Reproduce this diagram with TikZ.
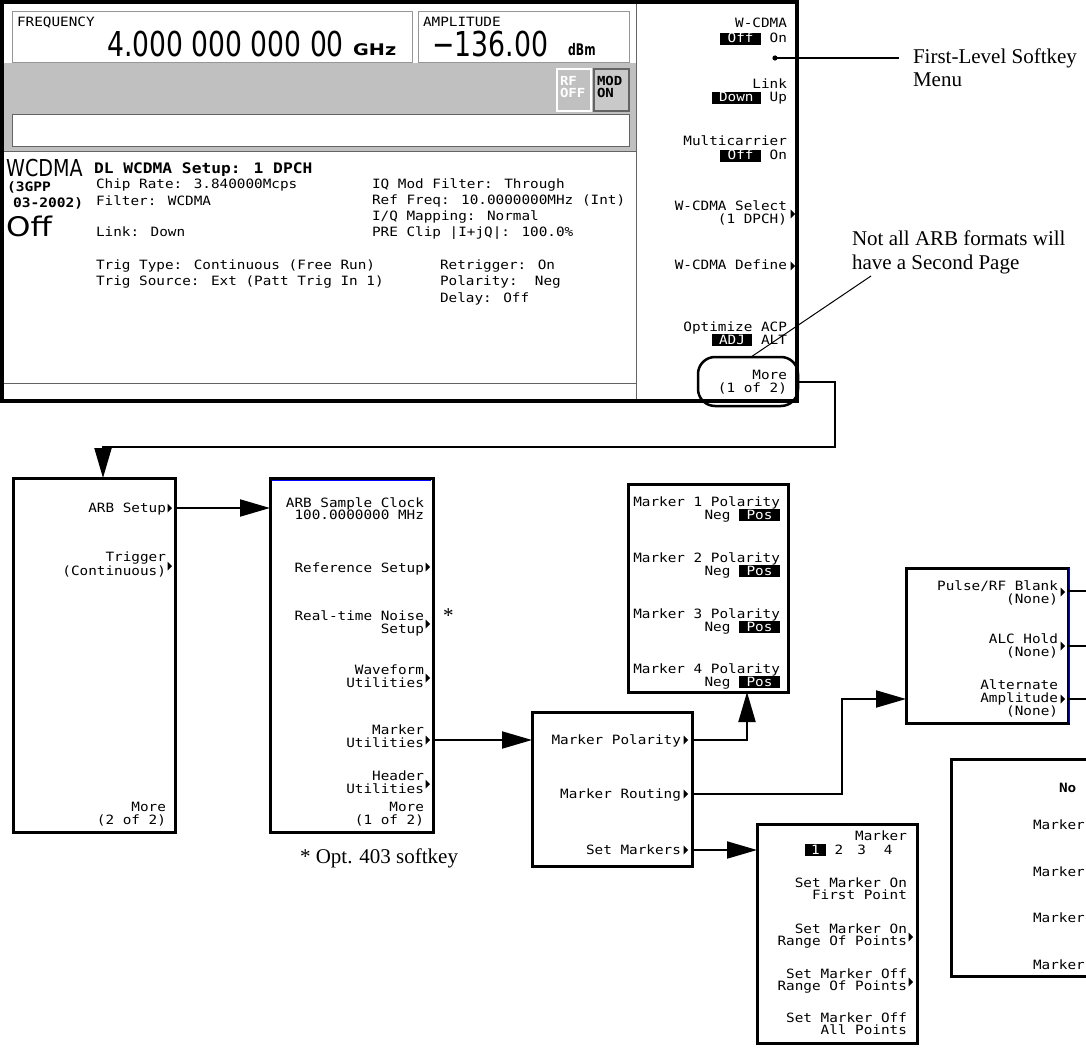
\documentclass[tikz,border=0pt]{standalone}
\usepackage{fontspec}
\usepackage{graphicx}
\usetikzlibrary{arrows.meta}
\setmainfont{Liberation Serif}
\newfontfamily\scrfam[FakeStretch=1.12]{DejaVu Sans Mono}
\newfontfamily\bigfam{DejaVu Sans}
\newcommand\scr{\scrfam\fontsize{12.8}{13}\selectfont}
\newcommand\hlt[1]{{\setlength{\fboxsep}{0pt}\colorbox{black}{\rule[-2.2pt]{0pt}{12.2pt}\hspace{7.5pt}\textcolor{white}{#1}\hspace{7.5pt}}}}
\newcommand\hlo[1]{{\setlength{\fboxsep}{0pt}\colorbox{black}{\rule[-2.2pt]{0pt}{12.2pt}\hspace{6pt}\textcolor{white}{#1}\hspace{6pt}}}}
\newcommand\trip[2]{\fill (#1-4.5,#2-4.5) -- (#1,#2) -- (#1-4.5,#2+4.5) -- cycle;}
\definecolor{scrgray}{RGB}{192,192,192}
\definecolor{lgray}{RGB}{150,150,150}
\definecolor{dgray}{RGB}{100,100,100}
\tikzset{
 st/.style={font=\scr, inner sep=0pt, outer sep=0pt, anchor=base east},
 sw/.style={font=\scr, inner sep=0pt, outer sep=0pt, anchor=base west},
 menubox/.style={draw, line width=3pt, inner sep=0pt, outer sep=0pt, fill=white, anchor=north west},
 conn/.style={line width=2pt, -{Triangle[length=30pt,width=17pt]}},
 wire/.style={line width=2pt},
 note/.style={font=\fontsize{21}{24}\selectfont, inner sep=0pt, outer sep=0pt, anchor=base west},
}
\begin{document}
\begin{tikzpicture}[x=1pt,y=-1pt]
\useasboundingbox (0,0) rectangle (1086,1048);
\clip (0,0) rectangle (1086,1048);
\fill[white] (0,0) rectangle (1086,1048);

% ---------- instrument screen ----------
\fill[scrgray] (3,63) rectangle (636,152);
\draw[lgray, line width=1pt] (12,12) rectangle (412,63);
\draw[lgray, line width=1pt] (418,12) rectangle (629,63);
\filldraw[fill=white, draw=dgray, line width=1pt] (12,115) rectangle (629,147);
\filldraw[fill=scrgray, draw=white, line width=1.5pt] (557,69) rectangle (591,111);
\filldraw[fill=scrgray!85, draw=dgray, line width=1.5pt] (594,69) rectangle (629,111);
\draw[dgray, line width=1pt] (3,152) -- (636,152);
\draw[dgray, line width=1pt] (3,383) -- (636,383);
\draw[dgray, line width=1pt] (636,3) -- (636,401);
\draw[line width=3.5pt] (2,2) rectangle (797,401);

\node[sw] (freqlbl) at (17,27) {FREQUENCY};
\node[inner sep=0pt, anchor=base west] (freqval) at (107,57) {\scalebox{0.775}[1]{\bigfam\fontsize{34.3}{36}\selectfont 4.000 000 000 00}};
\node[inner sep=0pt, anchor=base west] (ghz) at (353,56) {\scalebox{1.2}[1]{\bigfam\bfseries\fontsize{16}{16}\selectfont GHz}};
\node[sw] (amplbl) at (423,27) {AMPLITUDE};
\node[inner sep=0pt, anchor=base west] (ampval) at (432,57) {\scalebox{0.78}[1]{\bigfam\fontsize{34.3}{36}\selectfont −136.00}};
\node[inner sep=0pt, anchor=base west] (dbm) at (568,56) {\scalebox{0.68}[1]{\bigfam\bfseries\fontsize{16}{16}\selectfont dBm}};
\node[sw, font=\scrfam\bfseries\fontsize{12.5}{13}\selectfont, text=white] (rf) at (560,86) {RF};
\node[sw, font=\scrfam\bfseries\fontsize{12.5}{13}\selectfont, text=white] (rfoff) at (560,98) {OFF};
\node[sw, font=\scrfam\bfseries\fontsize{12.5}{13}\selectfont] (mod) at (597,86) {MOD};
\node[sw, font=\scrfam\bfseries\fontsize{12.5}{13}\selectfont] (modon) at (597,98) {ON};

\node[inner sep=0pt, anchor=base west] (wcdmabig) at (6,177) {\scalebox{0.82}[1]{\bigfam\fontsize{23.3}{24}\selectfont WCDMA}};
\node[sw, font=\scrfam\bfseries\fontsize{13}{13}\selectfont] (gpp1) at (7,192) {(3GPP};
\node[sw, font=\scrfam\bfseries\fontsize{13}{13}\selectfont] (gpp2) at (13,208) {03-2002)};
\node[inner sep=0pt, anchor=base west] (offbig) at (6,237) {\scalebox{1.15}[1]{\bigfam\fontsize{27}{28}\selectfont Off}};
\node[sw, font=\scrfam\bfseries\fontsize{14.5}{15}\selectfont] (dlhead) at (94,174) {DL WCDMA Setup: 1 DPCH};
\node[sw] (chip) at (96,189) {Chip Rate: 3.840000Mcps};
\node[sw] (filt) at (96,206) {Filter: WCDMA};
\node[sw] (link) at (96,237) {Link: Down};
\node[sw] (trty) at (96,270) {Trig Type: Continuous (Free Run)};
\node[sw] (trsr) at (96,286) {Trig Source: Ext (Patt Trig In 1)};
\node[sw] (iqmf) at (372,189) {IQ Mod Filter: Through};
\node[sw] (reff) at (372,205) {Ref Freq: 10.0000000MHz (Int)};
\node[sw] (iqmp) at (372,221) {I/Q Mapping: Normal};
\node[sw] (prec) at (372,237) {PRE Clip |I+jQ|: 100.0\%};
\node[sw] (retr) at (440,270) {Retrigger: On};
\node[sw] (pola) at (440,286) {Polarity:\ \ Neg};
\node[sw] (dela) at (440,302) {Delay: Off};

% first-level softkeys
\node[st] (wc1) at (787,28) {W-CDMA};
\node[st] (wc2) at (787,43) {\hlt{Off} On};
\node[st] (lk1) at (787,89) {Link};
\node[st] (lk2) at (787,102) {\hlt{Down} Up};
\node[st] (mc1) at (787,146) {Multicarrier};
\node[st] (mc2) at (787,160) {\hlt{Off} On};
\node[st] (ws1) at (787,211) {W-CDMA Select};
\node[st] (ws2) at (787,224) {(1 DPCH)};
\trip{795}{214}
\node[st] (wd) at (787,270) {W-CDMA Define};
\trip{795}{266}
\node[st] (oa1) at (787,331) {Optimize ACP};
\node[st] (oa2) at (787,344) {\hlt{ADJ} ALT};
\node[st] (mo1) at (787,379) {More};
\node[st] (mo2) at (787,392) {(1 of 2)};
\node[draw, line width=2.5pt, rounded corners=17pt, minimum width=100pt, minimum height=49pt, inner sep=0pt, outer sep=0pt] (moreov) at (748,381.5) {};

% annotations
\coordinate (fldot) at (775,58);
\coordinate (flend) at (899,58);
\fill (fldot) circle (2.6pt);
\draw[line width=1.5pt] (fldot) -- (flend);
\node[note] (fl1) at (913,64) {First-Level Softkey};
\node[note] (fl2) at (913,87) {Menu};
\node[note] (na1) at (852,246) {Not all ARB formats will};
\node[note] (na2) at (852,270) {have a Second Page};
\coordinate (nastart) at (871,276);
\coordinate (naend) at (751,357);
\draw[line width=1pt] (nastart) -- (naend);

% ---------- menu boxes ----------
\node[menubox, minimum width=162pt, minimum height=354pt] (L) at (13,478) {};
\node[menubox, minimum width=163pt, minimum height=354pt] (A) at (270,478) {};
\node[menubox, minimum width=160pt, minimum height=208pt] (MP4) at (628,484) {};
\node[menubox, minimum width=160pt, minimum height=154pt] (MR) at (532,712) {};
\node[menubox, minimum width=162pt, minimum height=155pt] (PB) at (906,568) {};
\node[menubox, minimum width=160pt, minimum height=219pt] (SM) at (757,824) {};
\node[menubox, minimum width=200pt, minimum height=217pt] (RB) at (951,759) {};
\draw[blue, line width=0.8pt] (272,480.8) -- (431,480.8);
\draw[blue, line width=0.8pt] (1069.8,568) -- (1069.8,723);

% box L
\node[st] (ls) at (166,512) {ARB Setup};
\trip{172}{508}
\node[st] (lt1) at (166,561) {Trigger};
\node[st] (lt2) at (166,575) {(Continuous)};
\trip{172}{566}
\node[st] (lm1) at (166,811) {More};
\node[st] (lm2) at (166,824) {(2 of 2)};

% box A
\node[st] (a1a) at (424,507) {ARB Sample Clock};
\node[st] (a1b) at (424,519) {100.0000000 MHz};
\node[st] (a2) at (424,572) {Reference Setup};
\trip{430}{567}
\node[st] (a3a) at (424,620) {Real-time Noise};
\node[st] (a3b) at (424,633) {Setup};
\trip{430}{624}
\node[st] (a4a) at (424,674) {Waveform};
\node[st] (a4b) at (424,687) {Utilities};
\trip{430}{678}
\node[st] (a5a) at (424,734) {Marker};
\node[st] (a5b) at (424,747) {Utilities};
\trip{430}{740}
\node[st] (a6a) at (424,780) {Header};
\node[st] (a6b) at (424,793) {Utilities};
\trip{430}{784}
\node[st] (a7a) at (424,811) {More};
\node[st] (a7b) at (424,824) {(1 of 2)};
\node[note] (star) at (443,622) {*};
\node[note] (optnote) at (300,863) {* Opt. 403 softkey};

% box MP4
\node[st] (p1a) at (780,506) {Marker 1 Polarity};
\node[st] (p1b) at (780,519) {Neg \hlt{Pos}};
\node[st] (p2a) at (780,562) {Marker 2 Polarity};
\node[st] (p2b) at (780,575) {Neg \hlt{Pos}};
\node[st] (p3a) at (780,618) {Marker 3 Polarity};
\node[st] (p3b) at (780,631) {Neg \hlt{Pos}};
\node[st] (p4a) at (780,673) {Marker 4 Polarity};
\node[st] (p4b) at (780,686) {Neg \hlt{Pos}};

% box MR
\node[st] (r1) at (681,744) {Marker Polarity};
\trip{688}{740}
\node[st] (r2) at (681,798) {Marker Routing};
\trip{688}{794}
\node[st] (r3) at (681,854) {Set Markers};
\trip{688}{850}

% box PB
\node[st] (b1a) at (1058,590) {Pulse/RF Blank};
\node[st] (b1b) at (1058,603) {(None)};
\trip{1065}{592}
\node[st] (b2a) at (1058,643) {ALC Hold};
\node[st] (b2b) at (1058,656) {(None)};
\trip{1065}{646}
\node[st] (b3a) at (1058,689) {Alternate};
\node[st] (b3b) at (1058,702) {Amplitude};
\node[st] (b3c) at (1058,715) {(None)};
\trip{1065}{699}

% box SM
\node[st] (s1a) at (907,840) {Marker};
\node[sw] (s1b) at (805,854) {\hlo{1}\hspace{9pt}2\hspace{14pt}3\hspace{18pt}4};
\node[st] (s2a) at (907,887) {Set Marker On};
\node[st] (s2b) at (907,899) {First Point};
\node[st] (s3a) at (907,933) {Set Marker On};
\node[st] (s3b) at (907,945) {Range Of Points};
\trip{913}{937}
\node[st] (s4a) at (907,978) {Set Marker Off};
\node[st] (s4b) at (907,990) {Range Of Points};
\trip{913}{982}
\node[st] (s5a) at (907,1022) {Set Marker Off};
\node[st] (s5b) at (907,1034) {All Points};

% box RB (partially visible)
\node[sw, font=\scrfam\bfseries\fontsize{12.8}{13}\selectfont] (rbn) at (1059,792) {No};
\node[sw] (rbm1) at (1033,829) {Marker};
\node[sw] (rbm2) at (1033,876) {Marker};
\node[sw] (rbm3) at (1033,922) {Marker};
\node[sw] (rbm4) at (1033,969) {Marker};

% ---------- connectors ----------
\coordinate (mc1) at (835,447);
\coordinate (Lin) at (103,478);
\draw[conn] (moreov.east) -| (mc1) -| (Lin);
\coordinate (kARB) at (175,508);
\draw[conn] (kARB) -- (kARB -| A.west);
\coordinate (kMU) at (433,740);
\draw[conn] (kMU) -- (kMU -| MR.west);
\coordinate (kMP) at (692,740);
\coordinate (mp4in) at (747,692);
\draw[conn] (kMP) -| (mp4in);
\coordinate (kMR) at (692,794);
\coordinate (rtc) at (842,699);
\draw[conn] (kMR) -| (rtc) -- (rtc -| PB.west);
\coordinate (kSM) at (692,850);
\draw[conn] (kSM) -- (kSM -| SM.west);
\coordinate (o1) at (1086,591);
\coordinate (o2) at (1086,646);
\coordinate (o3) at (1086,699);
\draw[wire] (PB.east |- o1) -- (o1);
\draw[wire] (PB.east |- o2) -- (o2);
\draw[wire] (PB.east |- o3) -- (o3);
\end{tikzpicture}
\end{document}
